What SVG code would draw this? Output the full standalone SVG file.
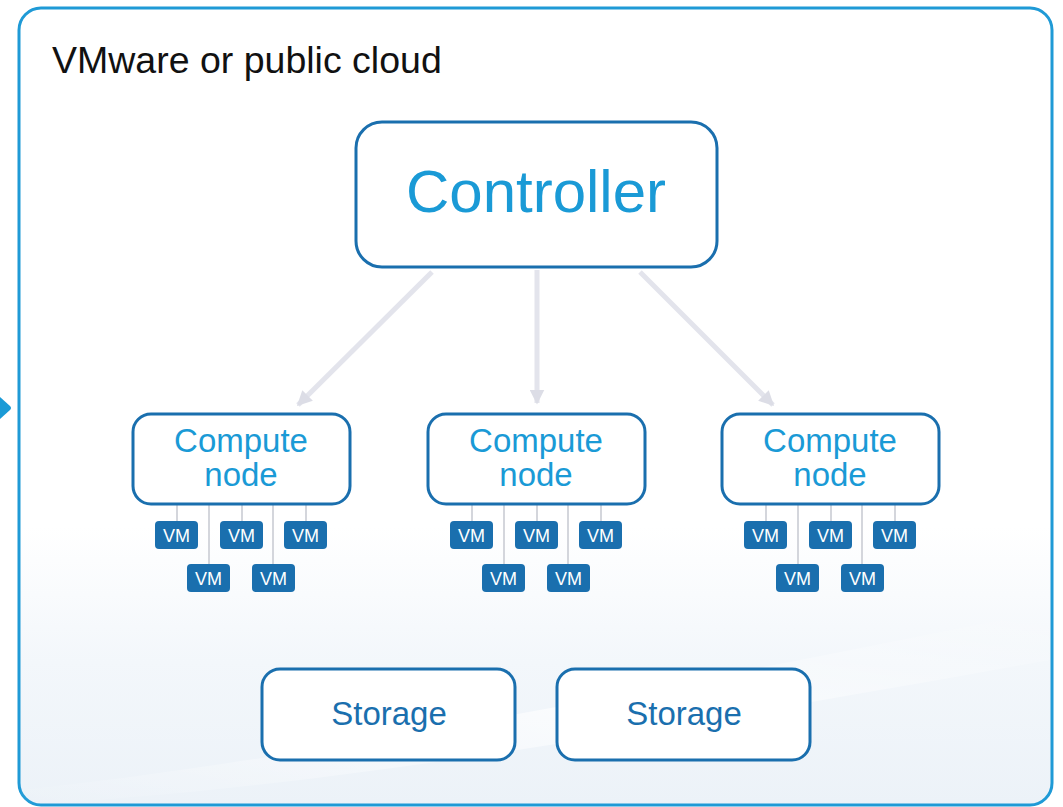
<svg xmlns="http://www.w3.org/2000/svg" width="1063" height="807" viewBox="0 0 1063 807">
<style>
.title{font-family:"Liberation Sans",Arial,sans-serif;font-size:37.5px;fill:#111}
.ctl{font-family:"Liberation Sans",Arial,sans-serif;font-size:60px;fill:#1a9ad6;text-anchor:middle}
.cn{font-family:"Liberation Sans",Arial,sans-serif;font-size:33px;fill:#1a9ad6;text-anchor:middle}
.st{font-family:"Liberation Sans",Arial,sans-serif;font-size:33px;fill:#1a6fae;text-anchor:middle}
.vmt{font-family:"Liberation Sans",Arial,sans-serif;font-size:18px;fill:#fff;text-anchor:middle}
.box{fill:#fff;stroke:#1a6fae;stroke-width:3}
.vm{fill:#1a6fae}
.tick{stroke:#d4d6dc;stroke-width:2}
.arr{stroke:#e3e4ec;stroke-width:5;fill:none;marker-end:url(#ah)}
</style>
<defs>
<marker id="ah" viewBox="0 0 10 10" refX="9" refY="5" markerWidth="3" markerHeight="3" orient="auto" markerUnits="strokeWidth">
<path d="M0,0 L10,5 L0,10 z" fill="#dcdde6"/>
</marker>
<linearGradient id="bg" x1="0" y1="0" x2="0" y2="1">
<stop offset="0" stop-color="#ffffff"/>
<stop offset="0.65" stop-color="#ffffff"/>
<stop offset="0.82" stop-color="#f3f7fb"/>
<stop offset="1" stop-color="#ecf2f8"/>
</linearGradient>
<linearGradient id="sw" x1="0" y1="1" x2="1" y2="0">
<stop offset="0" stop-color="#ffffff" stop-opacity="0"/>
<stop offset="0.5" stop-color="#ffffff" stop-opacity="0.9"/>
<stop offset="1" stop-color="#ffffff" stop-opacity="0"/>
</linearGradient>
</defs>
<rect width="1063" height="807" fill="#fff"/>
<g id="cloud">
<rect x="19" y="8" width="1033" height="797" rx="22" fill="url(#bg)" stroke="#1f9ad6" stroke-width="3"/>
<path d="M21,790 C300,760 600,700 1050,610 L1050,660 C600,740 300,790 21,805 z" fill="url(#sw)" opacity="0.7"/>
<text class="title" x="52" y="73">VMware or public cloud</text>
</g>
<path d="M0,397 L10,406 Q12,408 10,410 L0,419 z" fill="#1a9ad6"/>
<g id="connectors">
<line class="arr" x1="432" y1="272" x2="298" y2="405"/>
<line class="arr" x1="537" y1="270" x2="537" y2="403"/>
<line class="arr" x1="640" y1="272" x2="773" y2="405"/>
<g id="vm-links">
<g id="links1">
<line class="tick" x1="177" y1="505" x2="177" y2="521"/>
<line class="tick" x1="242" y1="505" x2="242" y2="521"/>
<line class="tick" x1="306" y1="505" x2="306" y2="521"/>
<line class="tick" x1="209" y1="505" x2="209" y2="564"/>
<line class="tick" x1="273" y1="505" x2="273" y2="564"/>
</g>
<use href="#links1" x="295"/>
<use href="#links1" x="589"/>
</g>
</g>
<g id="controller">
<rect class="box" x="356" y="122" width="361" height="145" rx="26"/>
<text class="ctl" x="536" y="212">Controller</text>
</g>
<g id="compute1">
<rect class="box" x="133" y="414" width="217" height="90" rx="18"/>
<text class="cn" x="241" y="452">Compute</text>
<text class="cn" x="241" y="486">node</text>
<g id="vms1">
<rect class="vm" x="155" y="521" width="43" height="28" rx="4"/><text class="vmt" x="176.5" y="542">VM</text>
<rect class="vm" x="220" y="521" width="43" height="28" rx="4"/><text class="vmt" x="241.5" y="542">VM</text>
<rect class="vm" x="284" y="521" width="43" height="28" rx="4"/><text class="vmt" x="305.5" y="542">VM</text>
<rect class="vm" x="187" y="564" width="43" height="28" rx="4"/><text class="vmt" x="208.5" y="585">VM</text>
<rect class="vm" x="252" y="564" width="43" height="28" rx="4"/><text class="vmt" x="273.5" y="585">VM</text>
</g>
</g>
<g id="compute2">
<rect class="box" x="428" y="414" width="217" height="90" rx="18"/>
<text class="cn" x="536" y="452">Compute</text>
<text class="cn" x="536" y="486">node</text>
<g transform="translate(295,0)">
<rect class="vm" x="155" y="521" width="43" height="28" rx="4"/><text class="vmt" x="176.5" y="542">VM</text>
<rect class="vm" x="220" y="521" width="43" height="28" rx="4"/><text class="vmt" x="241.5" y="542">VM</text>
<rect class="vm" x="284" y="521" width="43" height="28" rx="4"/><text class="vmt" x="305.5" y="542">VM</text>
<rect class="vm" x="187" y="564" width="43" height="28" rx="4"/><text class="vmt" x="208.5" y="585">VM</text>
<rect class="vm" x="252" y="564" width="43" height="28" rx="4"/><text class="vmt" x="273.5" y="585">VM</text>
</g>
</g>
<g id="compute3">
<rect class="box" x="722" y="414" width="217" height="90" rx="18"/>
<text class="cn" x="830" y="452">Compute</text>
<text class="cn" x="830" y="486">node</text>
<g transform="translate(589,0)">
<rect class="vm" x="155" y="521" width="43" height="28" rx="4"/><text class="vmt" x="176.5" y="542">VM</text>
<rect class="vm" x="220" y="521" width="43" height="28" rx="4"/><text class="vmt" x="241.5" y="542">VM</text>
<rect class="vm" x="284" y="521" width="43" height="28" rx="4"/><text class="vmt" x="305.5" y="542">VM</text>
<rect class="vm" x="187" y="564" width="43" height="28" rx="4"/><text class="vmt" x="208.5" y="585">VM</text>
<rect class="vm" x="252" y="564" width="43" height="28" rx="4"/><text class="vmt" x="273.5" y="585">VM</text>
</g>
</g>
<g id="storage1">
<rect class="box" x="262" y="669" width="253" height="91" rx="18"/>
<text class="st" x="389" y="725">Storage</text>
</g>
<g id="storage2">
<rect class="box" x="557" y="669" width="253" height="91" rx="18"/>
<text class="st" x="684" y="725">Storage</text>
</g>
</svg>
